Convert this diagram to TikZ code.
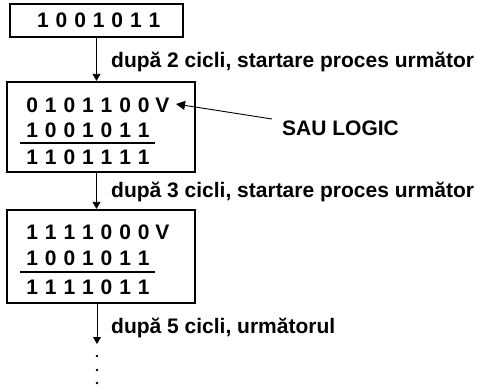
\documentclass[tikz,border=0pt]{standalone}
\usepackage{fontspec}
\setmainfont{Liberation Sans}
\usetikzlibrary{arrows.meta}
\newcommand\Dg[1]{\makebox[18.6pt][c]{#1}}
\begin{document}
\begin{tikzpicture}[x=1pt,y=-1pt,
  box/.style={draw, line width=2.4pt, inner sep=0pt},
  row/.style={anchor=west, inner sep=0pt, font=\fontsize{21}{21}\selectfont\bfseries},
  lbl/.style={anchor=west, inner sep=0pt, font=\fontsize{21}{21}\selectfont\bfseries},
  arr/.style={line width=0.9pt, -{Triangle[width=8pt,length=7pt]}},
  ptr/.style={line width=0.9pt, -{Triangle[width=9pt,length=9pt]}},
  rule/.style={line width=1.3pt}]
\useasboundingbox (0,0) rectangle (477,388);
% boxes
\node[box, minimum width=173pt, minimum height=33pt] (b1) at (96.5,20.5) {};
\node[box, minimum width=188pt, minimum height=90pt] (b2) at (101,127) {};
\node[box, minimum width=188pt, minimum height=93pt] (b3) at (101,256.5) {};
% rows
\node[row] (r11) at (33.4,20.5) {\Dg1\Dg0\Dg0\Dg1\Dg0\Dg1\Dg1};
\node[row] (r21) at (22.7,105) {\Dg0\Dg1\Dg0\Dg1\Dg1\Dg0\Dg0\Dg V};
\node[row] (r22) at (22.7,130) {\Dg1\Dg0\Dg0\Dg1\Dg0\Dg1\Dg1};
\node[row] (r23) at (22.7,157) {\Dg1\Dg1\Dg0\Dg1\Dg1\Dg1\Dg1};
\node[row] (r31) at (22.7,232) {\Dg1\Dg1\Dg1\Dg1\Dg0\Dg0\Dg0\Dg V};
\node[row] (r32) at (22.7,258) {\Dg1\Dg0\Dg0\Dg1\Dg0\Dg1\Dg1};
\node[row] (r33) at (22.7,287) {\Dg1\Dg1\Dg1\Dg1\Dg0\Dg1\Dg1};
% sum rules
\coordinate (u2a) at (20,143); \coordinate (u2b) at (155,143);
\coordinate (u3a) at (20,272); \coordinate (u3b) at (155,272);
\draw[rule] (u2a) -- (u2b);
\draw[rule] (u3a) -- (u3b);
% connectors
\draw[arr] (b1.south) -- (b1.south |- b2.north);
\draw[arr] (b2.south -| b1.south) -- (b1.south |- b3.north);
\coordinate (e3) at (97,344);
\draw[arr] (b3.south -| e3) -- (e3);
\fill (97,356) circle (1.3pt);
\fill (97,370) circle (1.3pt);
\fill (97,383) circle (1.3pt);
% labels
\node[lbl] (l1) at (111,62) {după 2 cicli, startare proces următor};
\node[lbl] (l2) at (111,192) {după 3 cicli, startare proces următor};
\node[lbl] (l3) at (111,328) {după 5 cicli, următorul};
\node[lbl] (sau) at (282,128) {SAU LOGIC};
\coordinate (pe) at (272,119);
\coordinate (pt) at (176,104);
\draw[ptr] (pe) -- (pt);
\end{tikzpicture}
\end{document}
